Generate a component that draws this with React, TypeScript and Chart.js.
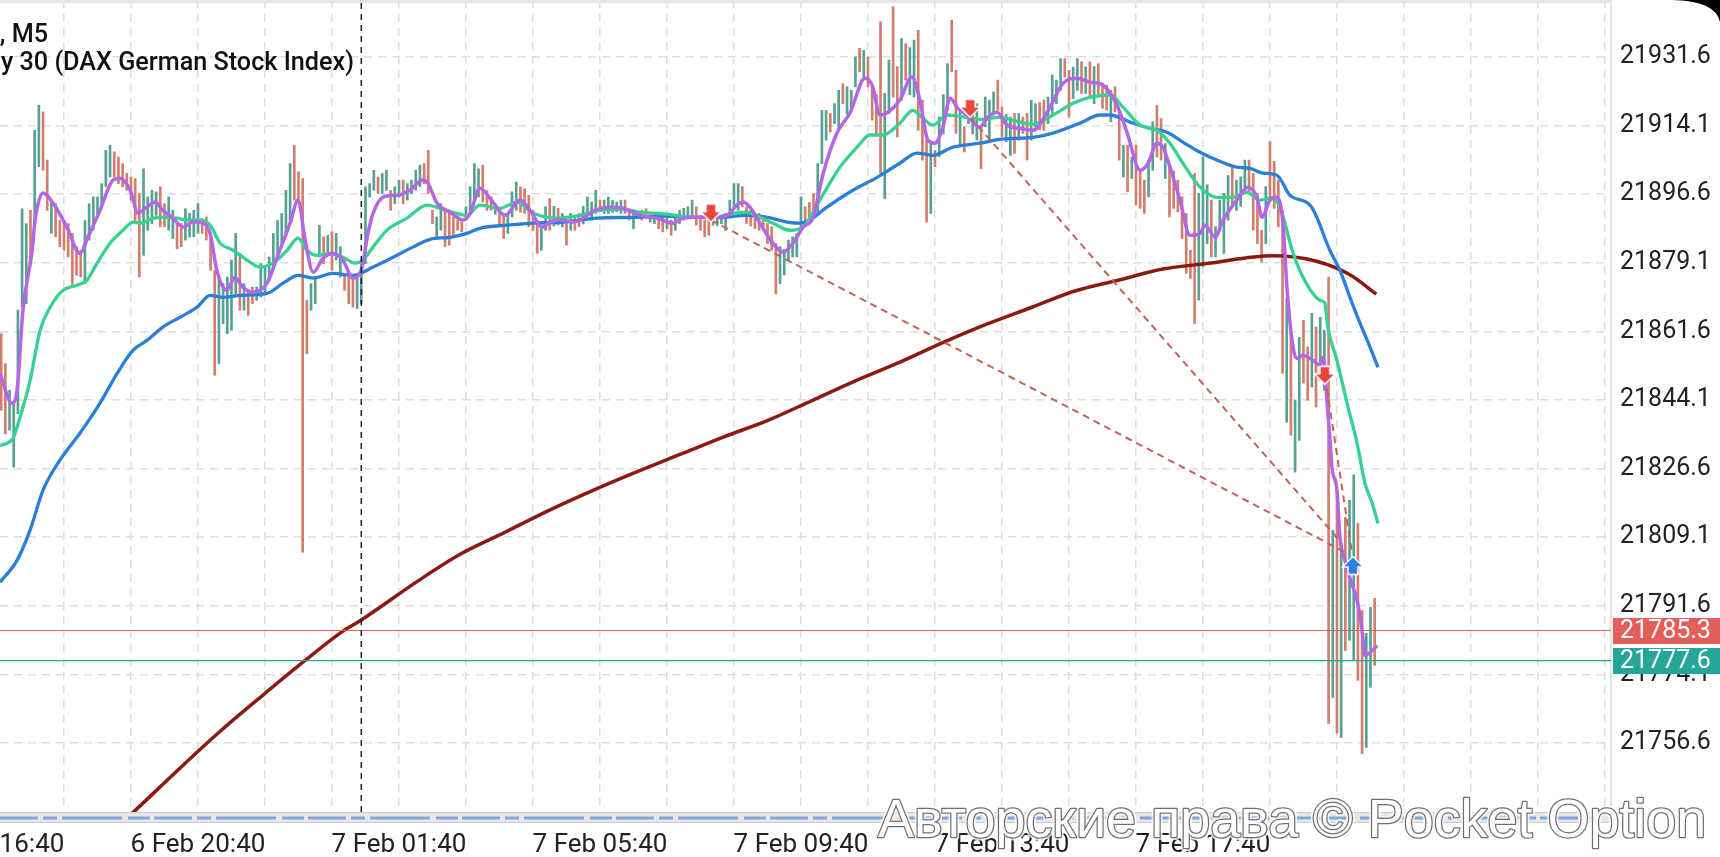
import React, { useEffect, useRef } from 'react';
import { Chart, registerables } from 'chart.js';

Chart.register(...registerables);

// ---------------- data ----------------
const candleHigh: number[] = [
  21861.0, 21853.4, 21846.6, 21843.2, 21867.0, 21892.9, 21889.1, 21892.5, 21912.9, 21919.3,
  21917.6, 21905.3, 21895.1, 21894.2, 21889.9, 21889.5, 21889.1, 21886.6, 21883.2, 21882.3,
  21889.9, 21894.2, 21895.9, 21895.9, 21899.3, 21907.8, 21909.1, 21907.4, 21906.1, 21904.4,
  21901.9, 21901.0, 21900.6, 21896.8, 21903.1, 21895.9, 21897.6, 21897.2, 21898.5, 21894.2,
  21895.9, 21892.5, 21889.5, 21889.1, 21892.9, 21891.7, 21892.5, 21894.2, 21890.4, 21890.8,
  21885.7, 21877.2, 21875.5, 21873.8, 21875.5, 21879.8, 21886.6, 21881.5, 21873.8, 21872.1,
  21872.9, 21872.9, 21878.9, 21878.1, 21880.6, 21886.6, 21889.9, 21891.7, 21897.6, 21904.4,
  21909.1, 21902.3, 21900.6, 21869.5, 21873.8, 21875.5, 21888.7, 21885.7, 21886.1, 21887.0,
  21886.6, 21883.2, 21876.3, 21875.5, 21875.5, 21875.5, 21878.9, 21898.5, 21899.3, 21902.7,
  21901.0, 21901.9, 21902.7, 21897.6, 21898.5, 21900.2, 21900.2, 21899.3, 21900.2, 21902.7,
  21904.0, 21904.4, 21907.8, 21892.5, 21890.8, 21894.2, 21892.5, 21891.7, 21890.8, 21889.9,
  21889.5, 21893.4, 21898.5, 21904.4, 21903.1, 21904.0, 21897.5, 21895.9, 21894.2, 21892.5,
  21891.7, 21891.7, 21897.2, 21899.7, 21898.5, 21898.0, 21896.3, 21892.5, 21890.0, 21887.8,
  21893.4, 21895.5, 21893.5, 21893.0, 21891.7, 21890.0, 21891.7, 21890.8, 21891.7, 21893.5,
  21895.9, 21894.6, 21897.6, 21895.1, 21895.1, 21895.9, 21895.0, 21894.6, 21895.1, 21895.1,
  21892.5, 21892.5, 21892.1, 21892.5, 21892.9, 21892.0, 21891.7, 21891.2, 21891.2, 21890.8,
  21890.0, 21890.8, 21892.5, 21893.0, 21893.4, 21895.1, 21893.4, 21891.2, 21890.0, 21890.0,
  21890.8, 21891.0, 21890.8, 21891.7, 21895.1, 21899.3, 21899.3, 21898.5, 21893.4, 21892.5,
  21891.7, 21891.7, 21890.8, 21889.1, 21888.3, 21884.0, 21883.2, 21882.5, 21884.9, 21885.7,
  21886.6, 21895.9, 21893.4, 21894.5, 21896.8, 21904.4, 21918.0, 21918.0, 21917.2, 21919.7,
  21923.1, 21924.8, 21924.0, 21923.1, 21931.6, 21933.8, 21933.3, 21931.6, 21924.0, 21922.0,
  21940.6, 21922.3, 21930.8, 21944.4, 21929.1, 21936.3, 21935.0, 21934.0, 21935.9, 21938.4,
  21920.6, 21910.4, 21909.5, 21907.8, 21916.3, 21922.0, 21929.9, 21941.0, 21928.2, 21918.0,
  21913.8, 21918.9, 21919.0, 21919.7, 21913.8, 21921.4, 21920.6, 21922.7, 21925.7, 21918.9,
  21917.0, 21916.3, 21917.2, 21917.2, 21916.3, 21917.2, 21920.6, 21919.7, 21920.0, 21920.6,
  21921.4, 21927.0, 21925.7, 21931.2, 21931.2, 21928.2, 21929.0, 21931.2, 21930.4, 21929.1,
  21930.4, 21929.1, 21929.9, 21925.0, 21924.4, 21923.1, 21924.0, 21918.0, 21909.1, 21909.1,
  21906.1, 21909.1, 21903.0, 21900.2, 21905.3, 21915.1, 21919.3, 21915.9, 21909.5, 21903.6,
  21902.5, 21900.2, 21895.9, 21891.7, 21882.3, 21901.9, 21896.8, 21906.1, 21899.0, 21895.1,
  21888.3, 21895.1, 21896.8, 21901.4, 21903.6, 21900.2, 21901.0, 21905.3, 21905.3, 21901.9,
  21896.8, 21887.4, 21898.5, 21910.0, 21905.0, 21900.2, 21892.5, 21870.0, 21861.1, 21844.0,
  21860.1, 21864.4, 21857.6, 21866.2, 21862.7, 21865.2, 21861.9, 21875.4, 21810.9, 21821.1,
  21807.5, 21814.2, 21818.5, 21825.0, 21812.6, 21790.4, 21784.6, 21791.2, 21793.5,
];

const candleLow: number[] = [
  21841.5, 21835.5, 21836.4, 21827.0, 21840.6, 21867.8, 21868.7, 21878.9, 21889.1, 21903.6,
  21902.7, 21892.5, 21886.6, 21885.7, 21883.2, 21882.3, 21880.6, 21872.9, 21875.9, 21875.5,
  21873.8, 21884.9, 21887.4, 21890.8, 21893.4, 21898.5, 21901.0, 21901.0, 21899.3, 21898.5,
  21897.6, 21895.1, 21889.9, 21875.5, 21881.0, 21887.4, 21889.1, 21891.2, 21888.3, 21888.3,
  21887.4, 21885.3, 21882.7, 21883.2, 21884.9, 21885.7, 21885.7, 21886.6, 21886.6, 21884.9,
  21877.2, 21850.4, 21853.4, 21863.6, 21861.0, 21861.9, 21870.4, 21867.0, 21867.0, 21865.7,
  21868.7, 21869.5, 21870.4, 21871.2, 21874.6, 21877.2, 21880.6, 21884.0, 21886.6, 21889.1,
  21895.1, 21895.1, 21805.3, 21855.9, 21867.0, 21868.7, 21880.6, 21878.9, 21881.5, 21877.2,
  21879.8, 21875.5, 21872.1, 21868.7, 21867.8, 21867.4, 21868.7, 21878.9, 21895.9, 21897.6,
  21896.8, 21896.8, 21897.6, 21892.5, 21894.2, 21895.9, 21894.2, 21895.1, 21896.8, 21897.6,
  21898.5, 21899.3, 21896.8, 21889.1, 21885.7, 21887.4, 21883.2, 21883.6, 21885.7, 21887.4,
  21887.0, 21889.9, 21891.7, 21895.1, 21895.9, 21894.6, 21892.5, 21892.5, 21891.5, 21889.1,
  21885.3, 21886.6, 21890.8, 21892.5, 21892.0, 21891.7, 21888.3, 21887.4, 21881.5, 21882.3,
  21887.4, 21887.4, 21888.5, 21888.7, 21888.3, 21883.6, 21887.4, 21887.4, 21888.3, 21889.0,
  21891.7, 21890.0, 21891.7, 21892.5, 21891.7, 21891.7, 21892.0, 21892.1, 21891.7, 21891.7,
  21890.0, 21887.8, 21890.4, 21890.0, 21890.4, 21889.5, 21889.1, 21887.8, 21887.0, 21887.8,
  21886.1, 21887.4, 21889.1, 21890.0, 21890.8, 21890.8, 21888.7, 21887.4, 21885.7, 21886.1,
  21888.7, 21888.5, 21889.1, 21887.4, 21890.8, 21893.4, 21892.5, 21893.4, 21889.1, 21888.5,
  21887.8, 21887.4, 21887.4, 21884.0, 21882.3, 21871.2, 21873.8, 21876.0, 21879.8, 21880.6,
  21880.6, 21887.4, 21888.3, 21889.0, 21890.8, 21891.7, 21904.4, 21910.4, 21912.5, 21914.6,
  21912.9, 21919.7, 21917.0, 21918.0, 21924.0, 21927.8, 21926.5, 21924.0, 21915.5, 21912.0,
  21901.9, 21895.5, 21917.2, 21921.4, 21911.2, 21920.6, 21925.7, 21922.0, 21921.4, 21912.9,
  21905.3, 21889.5, 21891.7, 21903.6, 21906.1, 21912.0, 21918.0, 21927.8, 21912.1, 21908.7,
  21907.4, 21914.6, 21912.0, 21910.4, 21903.1, 21913.8, 21910.4, 21916.8, 21918.0, 21911.2,
  21910.0, 21906.5, 21907.0, 21910.4, 21912.1, 21905.3, 21910.4, 21913.8, 21913.0, 21912.9,
  21914.6, 21917.2, 21919.7, 21923.1, 21926.5, 21916.3, 21921.0, 21923.1, 21922.3, 21922.3,
  21921.4, 21919.7, 21921.4, 21918.5, 21918.0, 21915.1, 21917.6, 21905.3, 21901.0, 21897.2,
  21900.6, 21893.8, 21893.0, 21891.7, 21895.9, 21902.7, 21906.1, 21905.3, 21900.6, 21890.8,
  21893.0, 21892.1, 21885.3, 21876.4, 21875.1, 21863.6, 21869.6, 21878.1, 21884.0, 21880.6,
  21880.6, 21887.4, 21881.5, 21890.0, 21893.4, 21892.5, 21893.5, 21897.6, 21896.8, 21887.4,
  21884.0, 21879.3, 21884.0, 21895.1, 21893.0, 21888.3, 21850.9, 21838.4, 21835.1, 21825.7,
  21833.8, 21848.4, 21844.0, 21847.4, 21842.3, 21849.1, 21846.6, 21761.6, 21768.2, 21759.1,
  21758.0, 21780.2, 21782.8, 21777.7, 21772.6, 21753.9, 21755.5, 21770.8, 21776.4,
];

// u = rising bar, d = falling bar
const candleDir: string = [
  'dduuuuuduu', 'dduddddddd', 'uuuuuuuddd', 'dddduuuudd', 'uudduuuudd',
  'dduuuuudud', 'duuuuuuuuu', 'dddduuudud', 'uuddduuuuu', 'duuduuduuu',
  'uddduudddd', 'duuuudddud', 'duuudddddu', 'ududududdu', 'uuuduuuuud',
  'duudduuddu', 'duuuuudddd', 'uuuuuuuddd', 'dddddduuuu', 'uuddduuudu',
  'uduuududdd', 'duudduduud', 'dduduuuddu', 'duuuduuudd', 'uududduudd',
  'uuuudduudu', 'duddduddud', 'uddduuddud', 'dddddduuud', 'uuuuduuudd',
  'dduddddudu', 'udduduudud', 'uduudduud',
].join('');

const maFast: [number, number][] = [
  [0.7, 21850.9], [3.6, 21843.3], [4.8, 21846.6], [6.2, 21867.0], [8.4, 21882.3], [9.1, 21890.0],
  [11.0, 21896.9], [13.4, 21894.3], [16.7, 21888.2], [19.8, 21881.5], [21.7, 21885.6], [24.6, 21892.5],
  [27.7, 21900.2], [29.4, 21900.7], [31.8, 21897.6], [33.7, 21891.8], [35.8, 21893.3], [37.7, 21894.6],
  [39.6, 21892.5], [42.0, 21890.5], [44.4, 21888.2], [46.8, 21889.5], [49.2, 21889.2], [50.9, 21886.6],
  [52.5, 21877.2], [54.9, 21872.1], [56.8, 21875.4], [58.7, 21872.9], [61.1, 21871.6], [64.5, 21873.9],
  [66.9, 21880.5], [70.0, 21889.2], [71.9, 21895.1], [73.6, 21884.9], [75.5, 21876.7], [77.9, 21880.3],
  [80.2, 21881.5], [82.6, 21879.8], [85.0, 21875.2], [87.2, 21878.0], [88.4, 21885.6], [89.8, 21891.7],
  [92.7, 21896.1], [95.5, 21896.3], [98.6, 21897.6], [101.7, 21900.2], [102.9, 21899.4], [105.1, 21894.3],
  [108.2, 21892.0], [111.3, 21890.0], [113.0, 21891.7], [115.3, 21898.1], [118.4, 21894.6], [121.3, 21891.2],
  [124.9, 21895.1], [127.3, 21892.5], [130.2, 21888.2], [132.1, 21889.5], [134.4, 21890.0], [137.6, 21889.5],
  [140.0, 21890.5], [142.8, 21892.5], [146.4, 21893.3], [149.5, 21893.0], [153.6, 21891.2], [157.6, 21890.5],
  [161.4, 21889.2], [163.8, 21890.5], [167.2, 21890.7], [170.3, 21890.7], [174.3, 21891.2], [176.7, 21893.8],
  [178.1, 21894.6], [179.8, 21893.3], [182.2, 21889.2], [185.3, 21884.1], [187.7, 21881.8], [190.1, 21884.1],
  [192.5, 21888.2], [194.9, 21890.7], [197.3, 21901.9], [200.6, 21912.2], [203.7, 21917.3], [207.3, 21926.2],
  [209.0, 21924.4], [210.9, 21916.8], [212.5, 21917.3], [215.6, 21920.6], [218.5, 21926.5], [220.4, 21920.6],
  [222.3, 21910.4], [224.0, 21909.6], [225.9, 21913.7], [227.6, 21921.1], [229.3, 21918.8], [231.6, 21916.8],
  [234.7, 21913.7], [236.4, 21916.0], [238.8, 21917.5], [241.2, 21914.2], [244.3, 21913.4], [247.4, 21912.9],
  [250.7, 21917.3], [254.6, 21924.9], [257.9, 21926.2], [261.0, 21925.2], [264.1, 21924.4], [267.5, 21919.3],
  [269.9, 21912.2], [273.0, 21902.7], [274.9, 21904.5], [277.0, 21909.6], [278.4, 21908.6], [280.6, 21901.9],
  [282.5, 21895.1], [284.9, 21886.1], [287.3, 21886.6], [288.5, 21888.7], [290.9, 21885.6], [292.8, 21890.0],
  [296.1, 21895.1], [298.7, 21898.4], [300.9, 21895.8], [302.1, 21890.7], [304.0, 21895.1], [305.7, 21895.8],
  [307.1, 21889.2], [308.1, 21872.1], [309.5, 21857.6], [310.4, 21854.7], [311.9, 21855.5], [314.3, 21854.2],
  [316.0, 21853.0], [316.7, 21855.0], [317.6, 21844.0], [318.3, 21834.6], [318.8, 21826.9], [320.0, 21821.1],
  [320.7, 21809.1], [321.9, 21803.2], [323.1, 21798.6], [324.8, 21793.0], [326.0, 21785.3], [326.7, 21778.9],
  [327.9, 21779.7], [329.6, 21781.5],
];

const maMid: [number, number][] = [
  [0.7, 21832.5], [3.8, 21834.3], [5.5, 21839.7], [7.9, 21849.1], [10.3, 21861.9], [12.7, 21867.8],
  [15.8, 21872.1], [19.1, 21873.4], [21.5, 21874.7], [23.9, 21879.0], [27.0, 21884.1], [30.1, 21887.4],
  [32.5, 21889.5], [34.2, 21889.2], [37.3, 21890.5], [39.6, 21890.7], [43.0, 21890.5], [45.4, 21890.0],
  [48.5, 21890.0], [50.9, 21888.7], [53.3, 21884.1], [56.4, 21882.3], [59.7, 21879.8], [62.8, 21878.0],
  [65.9, 21879.0], [69.3, 21882.3], [71.9, 21885.4], [74.0, 21882.3], [76.4, 21881.0], [79.5, 21881.5],
  [82.6, 21880.5], [85.5, 21879.0], [87.4, 21879.8], [89.8, 21883.1], [93.1, 21887.4], [97.9, 21890.5],
  [102.7, 21893.8], [105.8, 21893.0], [108.9, 21892.0], [112.2, 21891.2], [115.3, 21893.8], [120.1, 21893.0],
  [124.2, 21894.6], [128.0, 21891.8], [133.7, 21890.5], [139.2, 21891.2], [144.0, 21892.5], [149.5, 21892.8],
  [153.6, 21892.0], [160.0, 21891.5], [166.2, 21890.7], [171.0, 21890.7], [175.8, 21891.7], [179.1, 21892.0],
  [182.2, 21890.7], [185.3, 21889.2], [189.4, 21887.4], [192.5, 21888.2], [196.5, 21895.1], [201.3, 21903.5],
  [205.4, 21908.6], [208.5, 21911.7], [211.6, 21911.7], [215.6, 21914.7], [218.7, 21918.0], [221.1, 21916.0],
  [223.5, 21914.2], [226.9, 21916.8], [231.6, 21916.2], [234.7, 21915.7], [239.5, 21916.2], [244.3, 21915.0],
  [247.4, 21914.5], [252.2, 21916.8], [257.0, 21919.8], [261.0, 21921.3], [265.8, 21921.9], [268.9, 21918.8],
  [273.0, 21914.2], [277.0, 21912.9], [280.1, 21909.6], [283.2, 21904.5], [287.3, 21898.4], [291.3, 21895.8],
  [295.2, 21895.8], [298.5, 21897.1], [301.6, 21895.1], [304.7, 21895.8], [306.9, 21891.7], [309.3, 21882.3],
  [311.9, 21875.4], [316.0, 21869.5], [317.1, 21868.8], [317.8, 21862.7], [320.0, 21854.2], [322.4, 21843.3],
  [324.8, 21833.1], [326.7, 21822.8], [328.4, 21817.8], [329.8, 21812.6],
];

const maSlow: [number, number][] = [
  [0.7, 21797.6], [4.8, 21803.2], [7.9, 21810.9], [11.0, 21821.1], [15.0, 21828.7], [19.8, 21835.6],
  [24.6, 21843.3], [28.7, 21850.9], [32.5, 21856.8], [35.8, 21859.3], [39.6, 21862.7], [43.7, 21865.2],
  [47.8, 21867.8], [50.9, 21870.8], [54.0, 21870.3], [58.0, 21870.8], [64.5, 21871.3], [68.3, 21873.9],
  [71.9, 21875.9], [75.5, 21875.2], [80.2, 21876.4], [85.0, 21875.9], [89.8, 21878.0], [94.6, 21880.5],
  [99.3, 21883.1], [103.4, 21885.1], [108.2, 21885.6], [112.2, 21886.6], [115.3, 21887.9], [121.8, 21888.7],
  [128.0, 21889.2], [135.2, 21889.5], [143.3, 21890.5], [151.2, 21890.7], [160.0, 21891.0], [166.2, 21890.7],
  [172.7, 21890.7], [179.1, 21891.2], [183.9, 21890.7], [188.7, 21889.5], [191.8, 21889.2], [194.1, 21890.0],
  [198.2, 21893.3], [204.4, 21897.6], [210.2, 21900.9], [215.6, 21904.5], [219.7, 21907.1], [223.5, 21906.5],
  [228.3, 21908.6], [234.7, 21909.6], [239.5, 21910.6], [247.4, 21911.1], [252.2, 21912.2], [258.6, 21914.7],
  [263.4, 21916.8], [265.8, 21916.8], [270.6, 21915.0], [275.3, 21913.4], [279.4, 21912.4], [283.2, 21909.9],
  [287.3, 21907.3], [291.3, 21905.3], [296.1, 21903.5], [299.2, 21903.2], [302.3, 21902.0], [305.7, 21901.4],
  [308.8, 21896.3], [313.8, 21893.5], [318.3, 21882.3], [320.7, 21877.2], [323.1, 21870.3], [325.5, 21863.7],
  [327.9, 21857.6], [329.8, 21852.4],
];

const maLong: [number, number][] = [
  [22.0, 21729.0], [32.1, 21738.5], [42.6, 21749.1], [53.1, 21759.4], [63.6, 21768.9], [73.5, 21777.6],
  [82.7, 21785.2], [86.9, 21787.9], [100.2, 21797.7], [110.7, 21804.8], [121.2, 21810.3], [131.7, 21815.9],
  [142.2, 21821.0], [152.6, 21825.7], [163.1, 21830.2], [173.6, 21834.7], [184.1, 21838.9], [194.5, 21843.9],
  [205.0, 21849.0], [215.5, 21853.7], [226.0, 21858.8], [236.5, 21863.5], [247.0, 21867.7], [257.4, 21871.9],
  [267.9, 21874.7], [278.4, 21877.5], [288.9, 21878.9], [304.6, 21880.9], [315.1, 21879.5], [323.0, 21876.1],
  [329.4, 21871.1],
];

const sellSignals: [number, number][] = [[170.5, 21891.8], [232.4, 21918.5], [317.1, 21850.4]];
const buySignals: [number, number][] = [[323.8, 21801.9]];
const tradeLines: [number, number, number, number][] = [
  [170.5, 21890.0, 321.5, 21805.5],
  [232.4, 21916.3, 320.8, 21808.0],
  [317.6, 21847.0, 323.6, 21805.0],
];
const priceLevels: number[] = [21785.3, 21777.6];
const dayBreakIdx = 87;

const yTickValues: number[] = [
  21931.6, 21914.1, 21896.6, 21879.1, 21861.6, 21844.1, 21826.6, 21809.1, 21791.6, 21774.1, 21756.6,
];
const xGridIdx: number[] = [
  0, 16, 32, 48, 64, 80, 96, 112, 128, 144, 160, 176, 192, 208, 224, 240, 256, 272, 288, 304, 320, 336,
  352, 368, 384,
];
const xLabelIdx: number[] = [0, 48, 96, 144, 192, 240, 288];
const xLabelText: string[] = [
  '6 Feb 16:40', '6 Feb 20:40', '7 Feb 01:40', '7 Feb 05:40', '7 Feb 09:40', '7 Feb 13:40', '7 Feb 17:40',
];

// ---------------- view window ----------------
const X_MIN = 0.72;
const X_MAX = 385.44;
const Y_MIN = 21739.0;
const Y_MAX = 21946.14;

const UP = '#56a194';
const DOWN = '#d47d6c';
const PURPLE = '#b367e4';
const GREEN = '#37d28f';
const BLUE = '#2c7fd8';
const DARKRED = '#8a1b10';
const TRADE = '#c4625a';
const LEVEL_COLORS = ['#e35f5c', '#26a69a'];

function makeArrow(color: string, up: boolean): HTMLCanvasElement {
  const c = document.createElement('canvas');
  c.width = 24;
  c.height = 21;
  const g = c.getContext('2d') as CanvasRenderingContext2D;
  g.beginPath();
  if (!up) {
    g.moveTo(7, 1.5);
    g.lineTo(17, 1.5);
    g.lineTo(17, 9);
    g.lineTo(22.5, 9);
    g.lineTo(12, 19.5);
    g.lineTo(1.5, 9);
    g.lineTo(7, 9);
  } else {
    g.moveTo(7, 19.5);
    g.lineTo(17, 19.5);
    g.lineTo(17, 12);
    g.lineTo(22.5, 12);
    g.lineTo(12, 1.5);
    g.lineTo(1.5, 12);
    g.lineTo(7, 12);
  }
  g.closePath();
  g.fillStyle = color;
  g.fill();
  g.strokeStyle = '#ffffff';
  g.lineWidth = 1.5;
  g.stroke();
  return c;
}

const decor = {
  id: 'decor',
  beforeDraw(chart: any) {
    const ctx = chart.ctx;
    ctx.save();
    ctx.fillStyle = '#ffffff';
    ctx.fillRect(0, 0, chart.width, chart.height);
    ctx.restore();
  },
  afterDraw(chart: any) {
    const ctx: CanvasRenderingContext2D = chart.ctx;
    const area = chart.chartArea;
    const ya = chart.scales.y;
    ctx.save();

    // top frame line
    ctx.fillStyle = '#e6e6e6';
    ctx.fillRect(0, 0, area.right, 3);

    // bottom navigator strip
    const b = area.bottom;
    ctx.fillStyle = '#e7e7e7';
    ctx.fillRect(0, b, area.right, 11);
    ctx.strokeStyle = '#cdcdcd';
    ctx.lineWidth = 1;
    ctx.beginPath();
    ctx.moveTo(0, b + 0.5);
    ctx.lineTo(area.right, b + 0.5);
    ctx.moveTo(0, b + 10.5);
    ctx.lineTo(area.right, b + 10.5);
    ctx.stroke();
    ctx.strokeStyle = '#7ea8da';
    ctx.lineWidth = 3;
    ctx.setLineDash([38, 5, 14, 5, 60, 6, 22, 4]);
    ctx.beginPath();
    ctx.moveTo(0, b + 6);
    ctx.lineTo(area.right - 10, b + 6);
    ctx.stroke();
    ctx.setLineDash([]);

    // price tags on the right axis
    ctx.font = '25px Roboto';
    ctx.textAlign = 'left';
    ctx.textBaseline = 'middle';
    priceLevels.forEach((v, i) => {
      const y = ya.getPixelForValue(v);
      ctx.fillStyle = LEVEL_COLORS[i];
      ctx.fillRect(area.right + 2, Math.round(y - 13), chart.width - area.right - 2, 26);
      ctx.fillStyle = '#ffffff';
      ctx.fillText(v.toFixed(1), 1620, y + 1);
    });

    // title (cut off at the left edge)
    ctx.fillStyle = '#111111';
    ctx.font = '500 25.2px Roboto';
    ctx.textAlign = 'right';
    ctx.textBaseline = 'middle';
    ctx.fillText('Germany 30, M5', 48, 36);
    ctx.fillText('Germany 30 (DAX German Stock Index)', 354, 64);

    // watermark
    const wm = 'Авторские права © Pocket Option';
    ctx.font = '50px "Liberation Sans", Arial, sans-serif';
    const w = ctx.measureText(wm).width;
    const size = (50 * 828) / w;
    ctx.font = `${size.toFixed(1)}px "Liberation Sans", Arial, sans-serif`;
    ctx.textAlign = 'left';
    ctx.textBaseline = 'alphabetic';
    ctx.lineJoin = 'round';
    ctx.strokeStyle = 'rgba(255,255,255,0.8)';
    ctx.lineWidth = 6;
    ctx.strokeText(wm, 878, 837);
    ctx.strokeStyle = 'rgba(95,95,95,0.9)';
    ctx.lineWidth = 2.5;
    ctx.strokeText(wm, 878, 837);
    ctx.fillStyle = '#ffffff';
    ctx.fillText(wm, 878, 837);

    // screen corner
    ctx.fillStyle = '#000000';
    ctx.beginPath();
    ctx.moveTo(1672, 0);
    ctx.quadraticCurveTo(1716, 1, 1720, 22);
    ctx.lineTo(1720, 0);
    ctx.closePath();
    ctx.fill();

    ctx.restore();
  },
};

export default function App() {
  const ref = useRef<HTMLCanvasElement>(null);

  useEffect(() => {
    document.body.style.margin = '0';
    const canvas = ref.current as HTMLCanvasElement;
    const redArrow = makeArrow('#e8463d', false);
    const blueArrow = makeArrow('#2f7fe6', true);

    const candles = candleHigh.map((h, i) => ({ x: i + 1, y: [candleLow[i], h] }));
    const candleColors = candleHigh.map((_, i) => (candleDir[i] === 'u' ? UP : DOWN));
    const toPts = (arr: [number, number][]) => arr.map(([x, y]) => ({ x, y }));

    const maLine = (data: [number, number][], color: string, width: number, order: number) => ({
      type: 'line',
      data: toPts(data),
      borderColor: color,
      borderWidth: width,
      pointRadius: 0,
      cubicInterpolationMode: 'monotone',
      fill: false,
      order,
    });

    const datasets: any[] = [
      {
        type: 'bar',
        data: candles,
        backgroundColor: candleColors,
        borderWidth: 0,
        barThickness: 2,
        order: 20,
      },
      maLine(maLong, DARKRED, 3.5, 9),
      maLine(maSlow, BLUE, 3.3, 8),
      maLine(maMid, GREEN, 3.3, 7),
      maLine(maFast, PURPLE, 3.5, 6),
      ...priceLevels.map((v, i) => ({
        type: 'line',
        data: [
          { x: X_MIN, y: v },
          { x: X_MAX, y: v },
        ],
        borderColor: LEVEL_COLORS[i],
        borderWidth: 1.2,
        pointRadius: 0,
        order: 5,
      })),
      {
        type: 'line',
        data: [
          { x: dayBreakIdx, y: Y_MIN },
          { x: dayBreakIdx, y: Y_MAX },
        ],
        borderColor: '#222222',
        borderWidth: 1.5,
        borderDash: [6, 5],
        pointRadius: 0,
        order: 4,
      },
      ...tradeLines.map(([x1, y1, x2, y2]) => ({
        type: 'line',
        data: [
          { x: x1, y: y1 },
          { x: x2, y: y2 },
        ],
        borderColor: TRADE,
        borderWidth: 2,
        borderDash: [7, 5],
        pointRadius: 0,
        order: 3,
      })),
      {
        type: 'line',
        data: toPts(sellSignals),
        showLine: false,
        pointStyle: redArrow,
        pointRadius: 10,
        order: 1,
      },
      {
        type: 'line',
        data: toPts(buySignals),
        showLine: false,
        pointStyle: blueArrow,
        pointRadius: 10,
        order: 1,
      },
    ];

    const chart = new Chart(canvas, {
      type: 'bar',
      data: { datasets },
      options: {
        animation: false,
        responsive: false,
        maintainAspectRatio: false,
        layout: { padding: 0, autoPadding: false },
        events: [],
        plugins: {
          legend: { display: false },
          tooltip: { enabled: false },
          title: { display: false },
        },
        scales: {
          x: {
            type: 'linear',
            min: X_MIN,
            max: X_MAX,
            offset: false,
            afterBuildTicks: (s: any) => {
              s.ticks = xGridIdx.map((v) => ({ value: v }));
            },
            afterFit: (s: any) => {
              s.height = 45;
              s.paddingLeft = 0;
              s.paddingRight = 0;
            },
            ticks: {
              autoSkip: false,
              maxRotation: 0,
              minRotation: 0,
              padding: 18,
              color: '#222222',
              font: { family: 'Roboto', size: 26 },
              callback: (v: any) => {
                const k = xLabelIdx.indexOf(Number(v));
                return k >= 0 ? xLabelText[k] : '';
              },
            },
            grid: { color: '#dedede', lineWidth: 1.5, drawTicks: false, offset: false },
            border: { display: false, dash: [8, 6] },
          },
          y: {
            type: 'linear',
            position: 'right',
            min: Y_MIN,
            max: Y_MAX,
            afterBuildTicks: (s: any) => {
              s.ticks = yTickValues.map((v) => ({ value: v }));
            },
            afterFit: (s: any) => {
              s.width = 109;
              s.paddingTop = 0;
              s.paddingBottom = 0;
            },
            ticks: {
              padding: 9,
              color: '#222222',
              font: { family: 'Roboto', size: 25 },
              callback: (v: any) => Number(v).toFixed(1),
            },
            grid: { color: '#dedede', lineWidth: 1.5, drawTicks: false },
            border: { display: true, color: '#e3e3e3', width: 2, dash: [8, 6] },
          },
        },
      } as any,
      plugins: [decor as any],
    } as any);

    return () => chart.destroy();
  }, []);

  return (
    <div style={{ position: 'fixed', left: 0, top: 0, width: 1720, height: 857, overflow: 'hidden' }}>
      <canvas ref={ref} width={1720} height={857} style={{ display: 'block', width: 1720, height: 857 }} />
    </div>
  );
}
